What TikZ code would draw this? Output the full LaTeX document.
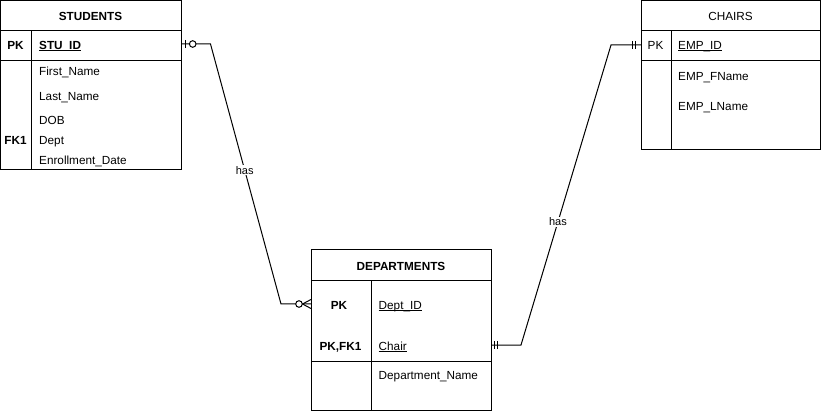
\documentclass[tikz,border=0pt]{standalone}
\usepackage{fontspec}
\setmainfont{Liberation Sans}
\usetikzlibrary{calc}
\newcommand{\myul}[1]{\setbox0\hbox{#1}\rlap{\rule[-1.8pt]{\wd0}{1pt}}\box0}
\tikzset{
  box/.style={draw, line width=1pt, inner sep=0pt, outer sep=0pt, anchor=north west},
  tline/.style={line width=1pt},
  txt/.style={inner sep=0pt, font=\fontsize{11.75}{13}\selectfont, anchor=west, text height=8.4pt, text depth=0pt},
  btxt/.style={inner sep=0pt, font=\fontsize{11.75}{13}\selectfont\bfseries, text height=8.4pt, text depth=0pt},
  rtxt/.style={inner sep=0pt, font=\fontsize{11.75}{13}\selectfont, text height=8.4pt, text depth=0pt},
  conn/.style={line width=1pt},
  lbl/.style={fill=white, inner sep=1pt, font=\fontsize{11}{12}\selectfont},
  ring/.style={line width=1pt, fill=white},
}
\begin{document}
\begin{tikzpicture}[x=1pt,y=-1pt]
\useasboundingbox (0,0) rectangle (821,411);

% STUDENTS
\node[box, minimum width=180.5pt, minimum height=169pt] (stu) at (0.5,1) {};
\draw[tline] (0.5,30.5) -- (181,30.5);
\draw[tline] (0.5,60.5) -- (181,60.5);
\draw[tline] (31,30.5) -- (31,170);
\node[btxt] (stuh) at (90.5,16) {STUDENTS};
\node[btxt] (stupk) at (15.5,45) {PK};
\node[txt, font=\fontsize{11.75}{13}\selectfont\bfseries] (stuid) at (39,45) {\myul{STU\_ID}};
\node[txt] (stufn) at (39,71) {First\_Name};
\node[txt] (stuln) at (39,96) {Last\_Name};
\node[txt] (studob) at (39,120) {DOB};
\node[btxt] (stufk) at (15.5,140) {FK1};
\node[txt] (studept) at (39,140) {Dept};
\node[txt] (stued) at (39,160) {Enrollment\_Date};

% CHAIRS
\node[box, minimum width=179pt, minimum height=149pt] (ch) at (641,1) {};
\draw[tline] (641,30.5) -- (820,30.5);
\draw[tline] (641,60.5) -- (820,60.5);
\draw[tline] (671,30.5) -- (671,150);
\node[rtxt] (chh) at (730.5,16) {CHAIRS};
\node[rtxt] (chpk) at (655.5,45) {PK};
\node[txt] (chid) at (678,45) {\myul{EMP\_ID}};
\node[txt] (chfn) at (678,76) {EMP\_FName};
\node[txt] (chln) at (678,106) {EMP\_LName};

% DEPARTMENTS
\node[box, minimum width=180pt, minimum height=160pt] (dep) at (311,250) {};
\draw[tline] (311,280.5) -- (491,280.5);
\draw[tline] (311,361) -- (491,361);
\draw[tline] (371,280.5) -- (371,410);
\node[btxt] (deph) at (401,266) {DEPARTMENTS};
\node[btxt] (deppk) at (339,305) {PK};
\node[txt] (depid) at (378.5,305) {\myul{Dept\_ID}};
\node[btxt] (deppkfk) at (340.5,346) {PK,FK1};
\node[txt] (depchair) at (378.5,346) {\myul{Chair}};
\node[txt] (depname) at (378.5,375.5) {Department\_Name};

% connector STUDENTS -- DEPARTMENTS
\coordinate (s1) at ($(stu.east |- stupk)+(0,-1)$);
\coordinate (d1) at ($(dep.west |- deppk)+(0,-1)$);
\draw[conn] (s1) -- ++(29.5,0) coordinate (k1)
  -- node[lbl, pos=0.485] (has1) {has} ($(d1)+(-30,0)$) coordinate (k2) -- (d1);
\draw[conn] ($(s1)+(4,-4)$) -- ++(0,8);
\draw[ring] ($(s1)+(11.7,0)$) circle (3.3pt);
\draw[conn] ($(d1)+(-8.5,0)$) -- ($(d1)+(0,-4.5)$);
\draw[conn] ($(d1)+(-8.5,0)$) -- ($(d1)+(0,4.5)$);
\draw[ring] ($(d1)+(-12,0)$) circle (3.3pt);

% connector DEPARTMENTS -- CHAIRS
\coordinate (d2) at ($(dep.east |- depchair)+(0,-1)$);
\coordinate (c2) at (ch.west |- chpk);
\draw[conn] (d2) -- ++(30,0) coordinate (k3)
  -- node[lbl, pos=0.41] (has2) {has} ($(c2)+(-30,0)$) coordinate (k4) -- (c2);
\draw[conn] ($(d2)+(3.5,-4)$) -- ++(0,8);
\draw[conn] ($(d2)+(6.5,-4)$) -- ++(0,8);
\draw[conn] ($(c2)+(-8.5,-4)$) -- ++(0,8);
\draw[conn] ($(c2)+(-5.5,-4)$) -- ++(0,8);
\end{tikzpicture}
\end{document}
